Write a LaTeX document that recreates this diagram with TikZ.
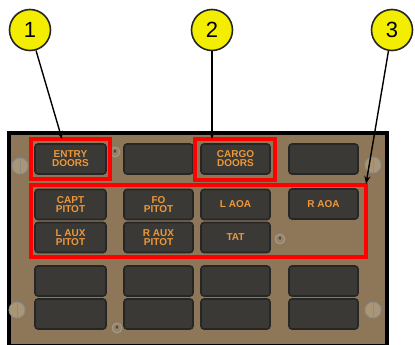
\documentclass[tikz,border=0pt]{standalone}
\usepackage{fontspec}
\setmainfont{Liberation Sans}
\usetikzlibrary{arrows.meta}
\definecolor{panelbrown}{RGB}{141,119,88}
\definecolor{screwtan}{RGB}{168,150,118}
\definecolor{btngray}{RGB}{58,57,53}
\definecolor{lamporange}{RGB}{238,152,58}
\definecolor{calloutyellow}{RGB}{243,238,0}
\tikzset{
  button/.style={draw=black!85, line width=1.6pt, fill=btngray, rounded corners=3pt,
    minimum width=69pt, minimum height=30pt, inner sep=0pt,
    text=lamporange, font=\bfseries\fontsize{10}{9}\selectfont, align=center},
  redbox/.style={draw=red, line width=3.2pt},
  callout/.style={circle, draw=black!85, line width=1.6pt, fill=calloutyellow,
    minimum size=41pt, inner sep=0pt, font=\fontsize{22}{22}\selectfont},
  pointer/.style={-{Stealth[length=8pt,width=6pt]}, line width=1.4pt},
  screw/.style={circle, draw=black!45, fill=screwtan, line width=0.8pt, minimum size=16pt, inner sep=0pt},
  pin/.style={circle, draw=black!35, fill=panelbrown!90!white, line width=0.6pt, minimum size=10pt, inner sep=0pt}
}
\begin{document}
\begin{tikzpicture}[x=1pt, y=-1pt]
  \useasboundingbox (0,0) rectangle (415,345);
  % panel
  \draw[fill=panelbrown, line width=3.5pt] (9,133) rectangle (387,346);
  \node[screw] (sl1) at (20,166) {};
  \node[screw] (sr1) at (373,165) {};
  \node[screw] (sl2) at (17,310) {};
  \node[screw] (sr2) at (373,310) {};
  \draw[black!45, line width=0.8pt] (sl1.north) -- (sl1.south) (sr1.north) -- (sr1.south)
    (sl2.north) -- (sl2.south) (sr2.north) -- (sr2.south);
  \node[pin] (p1) at (115,152) {\tiny\#};
  \node[pin] (p2) at (280,239) {\tiny\#};
  \node[pin] (p3) at (117,328) {\tiny\#};
  % row 1
  \node[button, minimum width=71pt] (entry) at (70.5,159) {ENTRY\\DOORS};
  \node[button] (blank1) at (158.5,159) {};
  \node[button] (cargo) at (235.5,159) {CARGO\\DOORS};
  \node[button] (blank2) at (323.5,159) {};
  % rows 2 and 3
  \node[button, minimum width=71pt] (captpitot) at (70.5,204.5) {CAPT\\PITOT};
  \node[button] (fopitot) at (158.5,204.5) {FO\\PITOT};
  \node[button] (laoa) at (235.5,204.5) {L AOA};
  \node[button] (raoa) at (323.5,204) {R AOA};
  \node[button, minimum width=71pt] (lauxpitot) at (70.5,237.5) {L AUX\\PITOT};
  \node[button] (rauxpitot) at (158.5,237.5) {R AUX\\PITOT};
  \node[button] (tat) at (235.5,237.5) {TAT};
  % rows 4 and 5
  \node[button, minimum width=71pt] (blank3) at (70.5,281) {};
  \node[button] (blank4) at (158.5,281) {};
  \node[button] (blank5) at (235.5,281) {};
  \node[button] (blank6) at (323.5,281) {};
  \node[button, minimum width=71pt] (blank7) at (70.5,314) {};
  \node[button] (blank8) at (158.5,314) {};
  \node[button] (blank9) at (235.5,314) {};
  \node[button] (blank10) at (323.5,314) {};
  % highlights
  \draw[redbox] (31,139) rectangle (110,179);
  \draw[redbox] (195,139) rectangle (275,180);
  \draw[redbox] (31,185) rectangle (366,257);
  \coordinate (tip1) at (62,139);
  \coordinate (tip2) at (212,139);
  \coordinate (tip3) at (366,184);
  % callouts
  \node[callout] (c1) at (30,30) {1};
  \node[callout] (c2) at (212,30) {2};
  \node[callout] (c3) at (392,30) {3};
  \draw[pointer] (c1) -- (tip1);
  \draw[pointer] (c2) -- (tip2);
  \draw[pointer] (c3) -- (tip3);
\end{tikzpicture}
\end{document}
